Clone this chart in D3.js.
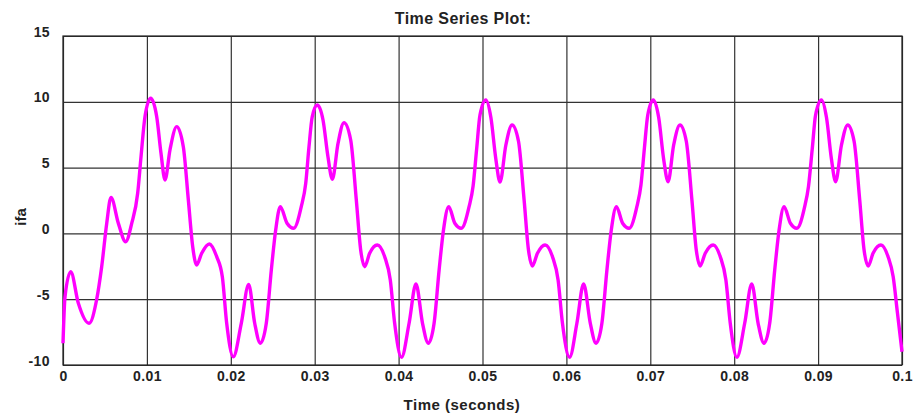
<!DOCTYPE html>
<html>
<head>
<meta charset="utf-8">
<script src="https://d3js.org/d3.v7.min.js"></script>
<style>
  body { margin: 0; background: #fff; }
  text { font-family: "Liberation Sans", Arial, sans-serif; font-weight: bold; fill: #222; }
</style>
</head>
<body>
<div id="chart"></div>
<script>
// time (s) and ifa values, period by period
const time = [
  0, 0.00024, 0.00092, 0.00183, 0.0031, 0.004, 0.00461, 0.00521, 0.00572, 0.0066,
  0.00747, 0.00819, 0.0089, 0.0093, 0.00977, 0.01045, 0.01117, 0.01168, 0.01216, 0.01275,
  0.01355, 0.01434, 0.01494, 0.01546, 0.01593, 0.01653, 0.01744, 0.01832, 0.01899, 0.01951,
  0.0203,
  0.02125, 0.02213, 0.02285, 0.02352, 0.02423, 0.02483, 0.02535, 0.0259, 0.0267,
  0.0275, 0.0284, 0.02893, 0.02932, 0.02971, 0.03031, 0.03099, 0.03158, 0.0321, 0.03278,
  0.03349, 0.03429, 0.03496, 0.03548, 0.03596, 0.03655, 0.03746, 0.03834, 0.03901, 0.03953,
  0.04035,
  0.04125, 0.04207, 0.04285, 0.04354, 0.04423, 0.04483, 0.04535, 0.04598, 0.0467,
  0.04747, 0.0484, 0.04888, 0.0493, 0.0497, 0.0504, 0.051, 0.05158, 0.05209, 0.05278,
  0.05353, 0.05429, 0.05496, 0.05548, 0.05594, 0.05655, 0.05746, 0.05834, 0.05901, 0.05953,
  0.06038,
  0.06125, 0.06205, 0.06285, 0.06353, 0.06423, 0.06483, 0.06535, 0.06596, 0.0667,
  0.06748, 0.0684, 0.06889, 0.0693, 0.0697, 0.07036, 0.071, 0.07158, 0.07212, 0.07278,
  0.07354, 0.07429, 0.07496, 0.07548, 0.07593, 0.07655, 0.07749, 0.07834, 0.07901, 0.07953,
  0.08032,
  0.08125, 0.08209, 0.08285, 0.08355, 0.08423, 0.08483, 0.08535, 0.08594, 0.0867,
  0.08746, 0.0884, 0.08885, 0.0893, 0.0897, 0.0904, 0.091, 0.09158, 0.09209, 0.09278,
  0.09353, 0.09429, 0.09496, 0.09548, 0.09597, 0.09655, 0.09749, 0.09834, 0.09895, 0.09945,
  0.1
];

const ifa = [
  -8.35, -4.81, -2.91, -5.31, -6.83, -5.06, -2.53, 0.76, 2.74, 0.76,
  -0.63, 0.76, 3.05, 5.83, 8.87, 10.27, 8.87, 6.09, 4.06, 6.34,
  8.11, 6.59, 2.54, -1.01, -2.4, -1.51, -0.8, -1.77, -3.29, -6.83,
  -9.37,
  -6.83, -3.87, -6.83, -8.35, -6.83, -2.78, 0.26, 2.03, 0.77,
  0.39, 2.03, 3.8, 6.59, 8.87, 9.76, 8.62, 5.83, 4.11, 6.84,
  8.41, 7.1, 2.54, -1.26, -2.53, -1.51, -0.88, -1.77, -3.54, -6.83,
  -9.41,
  -6.83, -3.84, -6.83, -8.35, -6.83, -2.78, 0.26, 2.03, 0.77,
  0.39, 2.03, 3.6, 6.4, 9.0, 10.14, 8.8, 5.7, 3.9, 6.7,
  8.24, 7.0, 2.54, -1.26, -2.48, -1.51, -0.88, -1.77, -3.54, -6.83,
  -9.41,
  -6.83, -3.84, -6.83, -8.35, -6.83, -2.78, 0.26, 2.03, 0.77,
  0.39, 2.03, 3.7, 6.5, 9.0, 10.14, 8.8, 5.7, 3.93, 6.7,
  8.24, 7.0, 2.54, -1.26, -2.48, -1.51, -0.88, -1.77, -3.54, -6.83,
  -9.41,
  -6.83, -3.84, -6.83, -8.35, -6.83, -2.78, 0.26, 2.03, 0.77,
  0.39, 2.03, 3.55, 6.4, 9.0, 10.14, 8.8, 5.7, 3.93, 6.7,
  8.24, 7.0, 2.54, -1.26, -2.48, -1.51, -0.88, -1.77, -3.3, -6.0,
  -8.99
];

const xTicks = [0, 0.01, 0.02, 0.03, 0.04, 0.05, 0.06, 0.07, 0.08, 0.09, 0.1];
const xTickLabels = ["0", "0.01", "0.02", "0.03", "0.04", "0.05", "0.06", "0.07", "0.08", "0.09", "0.1"];
const yTicks = [-10, -5, 0, 5, 10, 15];
const yTickLabels = ["-10", "-5", "0", "5", "10", "15"];

const W = 915, H = 413;
const margin = {left: 63, right: 13, top: 36, bottom: 48};
const w = W - margin.left - margin.right;
const h = H - margin.top - margin.bottom;

const svg = d3.select("#chart").append("svg")
    .attr("width", W)
    .attr("height", H);

svg.append("rect").attr("width", W).attr("height", H).attr("fill", "#fff");

const g = svg.append("g").attr("transform", `translate(${margin.left},${margin.top})`);

const x = d3.scaleLinear().domain([0, 0.1]).range([0, w]);
const y = d3.scaleLinear().domain([-10, 15]).range([h, 0]);

const xAxis = g.append("g")
    .attr("transform", `translate(0,${h})`)
    .call(d3.axisBottom(x).tickValues(xTicks).tickFormat((d, i) => xTickLabels[i]).tickSize(-h).tickSizeOuter(0));

const yAxis = g.append("g")
    .call(d3.axisLeft(y).tickValues(yTicks).tickFormat((d, i) => yTickLabels[i]).tickSize(-w).tickSizeOuter(0));

[xAxis, yAxis].forEach(a => {
    a.select(".domain").remove();
    a.selectAll(".tick line").attr("stroke", "#333").attr("stroke-width", 1.2);
    a.selectAll(".tick text")
        .style("font-size", "14px")
        .style("letter-spacing", "0.4px")
        .attr("fill", "#222");
});

xAxis.selectAll(".tick text").attr("y", 16).attr("dy", 0);
yAxis.selectAll(".tick text").attr("x", -13).attr("dy", 0);

g.append("rect")
    .attr("width", w)
    .attr("height", h)
    .attr("fill", "none")
    .attr("stroke", "#222")
    .attr("stroke-width", 1.2);

const line = d3.line()
    .x((d, i) => x(time[i]))
    .y(d => y(d))
    .curve(d3.curveMonotoneX);

g.append("path")
    .datum(ifa)
    .attr("d", line)
    .attr("fill", "none")
    .attr("stroke", "#ff00ff")
    .attr("stroke-width", 3.4)
    .attr("stroke-linejoin", "round");

svg.append("text")
    .attr("x", 463)
    .attr("y", 24)
    .attr("text-anchor", "middle")
    .style("font-size", "16px")
    .style("letter-spacing", "0.4px")
    .text("Time Series Plot:");

svg.append("text")
    .attr("x", 462)
    .attr("y", 410)
    .attr("text-anchor", "middle")
    .style("font-size", "15px")
    .style("letter-spacing", "0.5px")
    .text("Time (seconds)");

svg.append("text")
    .attr("transform", "translate(26,217) rotate(-90)")
    .attr("text-anchor", "middle")
    .style("font-size", "15px")
    .text("ifa");
</script>
</body>
</html>
